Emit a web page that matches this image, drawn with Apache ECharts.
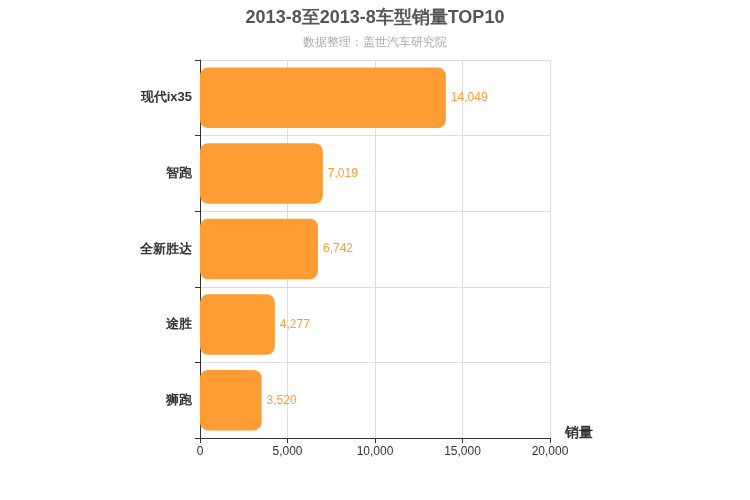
<!DOCTYPE html>
<html><head><meta charset="utf-8">
<script src="https://cdn.jsdelivr.net/npm/echarts@6/dist/echarts.min.js"></script>
<style>html,body{margin:0;padding:0}#c{width:750px;height:500px}</style>
</head><body><div id="c"></div>
<script>
const categories = ['现代ix35','智跑','全新胜达','途胜','狮跑'];
const sales = [14049, 7019, 6742, 4277, 3520];
const xTicks = {min:0, max:20000, interval:5000};
const chart = echarts.init(document.getElementById('c'));
chart.setOption({
  title:{text:'2013-8至2013-8车型销量TOP10',subtext:'数据整理：盖世汽车研究院',left:'center',top:4,
    textStyle:{fontSize:18,fontWeight:'bold',color:'#555'},subtextStyle:{fontSize:12,color:'#aaa'},itemGap:10},
  grid:{left:200,right:200,top:60,bottom:62},
  xAxis:{type:'value',min:xTicks.min,max:xTicks.max,interval:xTicks.interval,
    name:'销量',nameLocation:'end',nameGap:15,nameTextStyle:{fontSize:14,fontWeight:'bold',color:'#333',verticalAlign:'top',padding:[-12,0,0,0]},
    axisLine:{show:true,lineStyle:{color:'#333'}},axisTick:{show:true},
    axisLabel:{color:'#333',fontSize:12},splitLine:{lineStyle:{color:'#ddd'}}},
  yAxis:{type:'category',data:categories,inverse:true,
    axisLine:{lineStyle:{color:'#333'}},axisTick:{show:true},
    axisLabel:{color:'#333',fontSize:13,fontWeight:'bold'},splitLine:{show:true,lineStyle:{color:'#ddd'}}},
  series:[{type:'bar',data:sales,barWidth:'80%',
    itemStyle:{color:'#ff9c33',borderRadius:8},
    label:{show:true,position:'right',color:'#ff9c33',fontSize:12,
      formatter:p=>p.value.toLocaleString('en-US')}}]
});
</script></body></html>
